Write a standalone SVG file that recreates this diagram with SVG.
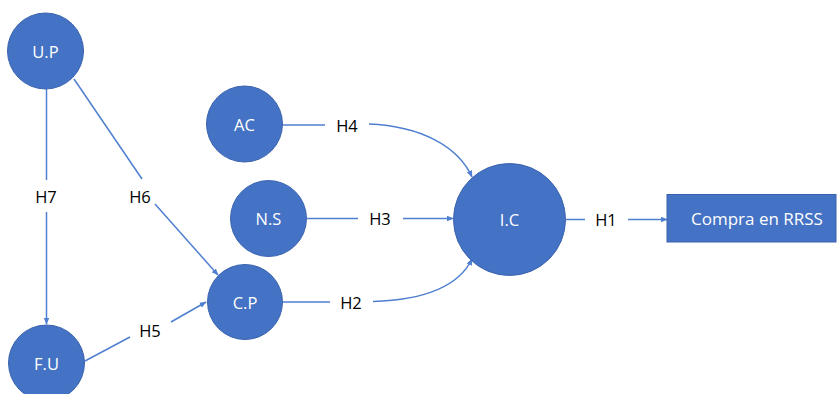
<svg xmlns="http://www.w3.org/2000/svg" width="838" height="394" viewBox="0 0 838 394">
<style>
.n{fill:#4472C4;stroke:#3A63AE;stroke-width:1}
.nt{fill:#fff;font-family:"Open Sans","Liberation Sans",sans-serif;font-size:16.5px;text-anchor:middle;dominant-baseline:central}
.l{fill:#000;font-family:"Open Sans","Liberation Sans",sans-serif;font-size:16.5px;text-anchor:middle;dominant-baseline:central}
.c{fill:none;stroke:#4F7FD0;stroke-width:1.5}
.a{marker-end:url(#ah)}
</style>
<defs>
<marker id="ah" viewBox="0 0 10 10" refX="9" refY="5" markerWidth="7" markerHeight="7" markerUnits="userSpaceOnUse" orient="auto">
<path d="M0,1 L10,5 L0,9 z" fill="#4F7FD0"/>
</marker>
</defs>
<rect width="838" height="394" fill="#fff"/>
<g id="connectors">
<path class="c" d="M46.5,89 V180"/>
<path class="c a" d="M46.5,212 V324"/>
<path class="c" d="M74,79 L142,179"/>
<path class="c a" d="M155,204 L218,275"/>
<path class="c" d="M85,361 L130,337"/>
<path class="c a" d="M171,322 L206,302"/>
<path class="c" d="M283,125 H325"/>
<path class="c a" d="M369,124 C420,126 458,146 472,177"/>
<path class="c" d="M307,218.5 H358"/>
<path class="c a" d="M403,218.5 H453"/>
<path class="c" d="M283,302 H330"/>
<path class="c a" d="M373,301.5 C420,300 458,288 472,259"/>
<path class="c" d="M566,219.5 H585"/>
<path class="c a" d="M628,219.5 H667"/>
</g>
<g id="labels">
<text class="l" x="46" y="196">H7</text>
<text class="l" x="140" y="196">H6</text>
<text class="l" x="150" y="330">H5</text>
<text class="l" x="347" y="125">H4</text>
<text class="l" x="380" y="218.5">H3</text>
<text class="l" x="351" y="302">H2</text>
<text class="l" x="606" y="219.5">H1</text>
</g>
<g id="UP"><circle class="n" cx="45.5" cy="51" r="38"/><text class="nt" x="45.5" y="51">U.P</text></g>
<g id="FU"><circle class="n" cx="46.5" cy="363" r="38"/><text class="nt" x="46.5" y="363">F.U</text></g>
<g id="AC"><circle class="n" cx="244.5" cy="124" r="38"/><text class="nt" x="244.5" y="124">AC</text></g>
<g id="NS"><circle class="n" cx="268.5" cy="218.5" r="38"/><text class="nt" x="268.5" y="218.5">N.S</text></g>
<g id="CP"><circle class="n" cx="245" cy="302" r="37.5"/><text class="nt" x="245" y="302">C.P</text></g>
<g id="IC"><circle class="n" cx="509.5" cy="219.5" r="56"/><text class="nt" x="509.5" y="219.5">I.C</text></g>
<g id="COMPRA"><rect class="n" x="667" y="194.5" width="169" height="47.5"/><text class="nt" x="757" y="218.5" style="font-size:17px">Compra en RRSS</text></g>
</svg>
